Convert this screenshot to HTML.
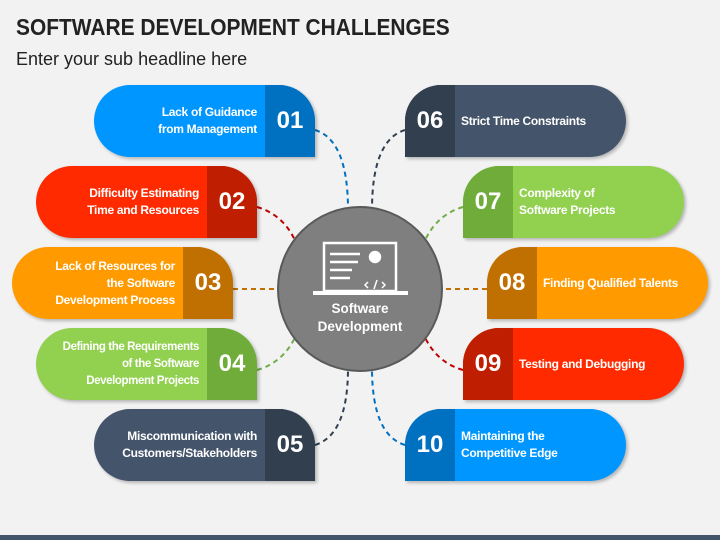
<!DOCTYPE html>
<html><head><meta charset="utf-8"><style>
body{margin:0;width:720px;height:540px;background:#f2f2f2;font-family:"Liberation Sans",Arial,sans-serif;position:relative;overflow:hidden}
.t{position:absolute;left:16px;top:14px;font-size:23px;font-weight:bold;color:#222;transform:scaleX(0.91);transform-origin:0 0;white-space:nowrap}
.s{position:absolute;left:16px;top:49px;font-size:18px;color:#222}
.c{position:absolute;width:221px;height:72px;box-shadow:2px 2px 3px rgba(0,0,0,.25)}
.L{border-radius:36px 36px 0 36px}
.R{border-radius:36px 36px 36px 0}
.n{position:absolute;top:0;width:50px;height:72px;color:#fff;font-weight:bold;font-size:24px;line-height:72px;text-align:center}
.L .n{right:0;border-radius:0 36px 0 0}
.R .n{left:0;border-radius:36px 0 0 0}
.x{position:absolute;top:0;height:72px;display:flex;align-items:center;color:#fff;font-size:12px;font-weight:bold;line-height:17px;letter-spacing:-0.3px;white-space:nowrap}
.L .x{right:58px;text-align:right;justify-content:flex-end}
.R .x{left:56px}
.bar{position:absolute;left:0;bottom:0;width:720px;height:5px;background:#44546a}
</style></head><body>
<div class="t">SOFTWARE DEVELOPMENT CHALLENGES</div>
<div class="s">Enter your sub headline here</div>
<svg width="720" height="540" style="position:absolute;left:0;top:0" fill="none" stroke-width="2" stroke-dasharray="5,4">
<path d="M315 130 Q348 140 348 210" stroke="#0070c0"/>
<path d="M257 207 Q285 215 297 245" stroke="#c00000"/>
<path d="M233 289 L278 289" stroke="#c07000"/>
<path d="M257 370 Q285 362 297 333" stroke="#70ad47"/>
<path d="M315 445 Q348 435 348 368" stroke="#323f4f"/>
<path d="M405 130 Q372 140 372 210" stroke="#323f4f"/>
<path d="M463 207 Q435 215 423 245" stroke="#70ad47"/>
<path d="M487 289 L442 289" stroke="#c07000"/>
<path d="M463 370 Q435 362 423 333" stroke="#c00000"/>
<path d="M405 445 Q372 435 372 368" stroke="#0070c0"/>
<circle cx="360" cy="289" r="82" fill="#7f7f7f" stroke="#595959" stroke-width="2" stroke-dasharray="none"/>
<g stroke="#fff" stroke-dasharray="none" stroke-width="2.5">
<rect x="324" y="243" width="72" height="48" stroke-width="2.5"/>
<line x1="313" y1="293" x2="408" y2="293" stroke-width="4"/>
<line x1="330" y1="254" x2="360" y2="254"/><line x1="330" y1="262" x2="358" y2="262"/>
<line x1="330" y1="270" x2="352" y2="270"/><line x1="330" y1="278" x2="350" y2="278"/>
<circle cx="375" cy="257" r="5" fill="#fff"/>
<path d="M368 282 l-3 3 3 3 M382 282 l3 3 -3 3 M377 280 l-3 9" stroke-width="1.5"/>
</g>
<text x="360" y="313" text-anchor="middle" fill="#fff" font-weight="bold" font-size="13.5" font-family="Liberation Sans" stroke="none">Software</text>
<text x="360" y="331" text-anchor="middle" fill="#fff" font-weight="bold" font-size="13.5" font-family="Liberation Sans" stroke="none">Development</text>
</svg>
<div class="c L" style="left:94px;top:85px;background:#0096ff"><div class="x">Lack of Guidance<br>from Management</div><div class="n" style="background:#0070c0">01</div></div>
<div class="c L" style="left:36px;top:166px;background:#ff2a00"><div class="x">Difficulty Estimating<br>Time and Resources</div><div class="n" style="background:#c01e00">02</div></div>
<div class="c L" style="left:12px;top:247px;background:#ff9a00"><div class="x">Lack of Resources for<br>the Software<br>Development Process</div><div class="n" style="background:#c07000">03</div></div>
<div class="c L" style="left:36px;top:328px;background:#92d050"><div class="x" style="font-size:11.5px;letter-spacing:-0.4px">Defining the Requirements<br>of the Software<br>Development Projects</div><div class="n" style="background:#6fac3a">04</div></div>
<div class="c L" style="left:94px;top:409px;background:#44546a"><div class="x">Miscommunication with<br>Customers/Stakeholders</div><div class="n" style="background:#323f4f">05</div></div>
<div class="c R" style="left:405px;top:85px;background:#44546a"><div class="n" style="background:#323f4f">06</div><div class="x">Strict Time Constraints</div></div>
<div class="c R" style="left:463px;top:166px;background:#92d050"><div class="n" style="background:#6fac3a">07</div><div class="x">Complexity of<br>Software Projects</div></div>
<div class="c R" style="left:487px;top:247px;background:#ff9a00"><div class="n" style="background:#c07000">08</div><div class="x">Finding Qualified Talents</div></div>
<div class="c R" style="left:463px;top:328px;background:#ff2a00"><div class="n" style="background:#c01e00">09</div><div class="x">Testing and Debugging</div></div>
<div class="c R" style="left:405px;top:409px;background:#0096ff"><div class="n" style="background:#0070c0">10</div><div class="x">Maintaining the<br>Competitive Edge</div></div>
<div class="bar"></div>
</body></html>
